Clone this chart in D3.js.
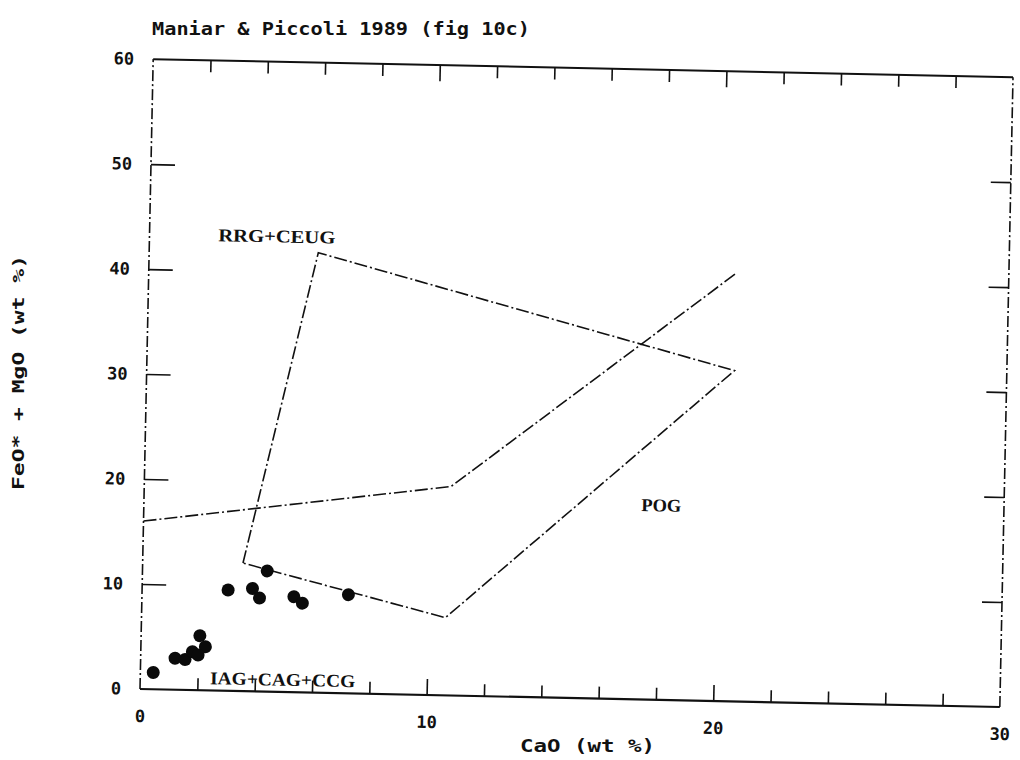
<!DOCTYPE html>
<html lang="en">
<head>
<meta charset="UTF-8">
<title>Maniar & Piccoli 1989 (fig 10c)</title>
<script src="https://d3js.org/d3.v7.min.js"></script>
<style>
    html, body { margin: 0; padding: 0; background: #fff; }
    svg { display: block; }
    .mono { font-family: 'DejaVu Sans Mono', monospace; font-weight: bold; fill: #111; }
    .region { font-family: 'Liberation Serif', 'DejaVu Serif', serif; font-weight: bold; fill: #111; }
</style>
</head>
<body>
<svg id="chart" width="1020" height="760"></svg>
<script>
// --- data ---
const xTicks = [0, 10, 20, 30];
const xMinorTicks = [2, 4, 6, 8, 12, 14, 16, 18, 22, 24, 26, 28];
const yTicks = [0, 10, 20, 30, 40, 50, 60];
const ySideTicks = [10, 20, 30, 40, 50];

// sample points: CaO vs FeO* + MgO (wt %)
const caO  = [0.45, 1.2, 1.55, 1.8, 2.05, 2.25, 2.0, 3.0, 3.85, 4.1, 4.35, 5.3, 5.6, 7.2];
const feMg = [1.6, 3.0, 2.9, 3.65, 5.2, 4.15, 3.35, 9.6, 9.8, 8.9, 11.5, 9.1, 8.5, 9.4];

// field boundaries
const rrgX = [3.5, 5.9, 20.5, 10.6, 3.5];
const rrgY = [12.2, 41.9, 31.5, 7.4, 12.2];
const pogX = [0, 10.7, 20.5];
const pogY = [16, 19.9, 40.8];

const regionNames = ["RRG+CEUG", "POG", "IAG+CAG+CCG"];
const regionX = [2.4, 17.35, 2.44];
const regionY = [42.8, 17.95, 0.6];
const regionLen = [117, 40, 145];

// --- layout ---
const W = 860, H = 630;
const svg = d3.select("#chart");

// the scanned figure sits slightly skewed on the page
const g = svg.append("g").attr("transform", "translate(140,689) rotate(1.2)");

const x = d3.scaleLinear().domain([0, 30]).range([0, W]);
const y = d3.scaleLinear().domain([0, 60]).range([0, -H]);

// frame: top/bottom solid, sides broken
g.append("line").attr("x1", 0).attr("x2", W).attr("y1", y(0)).attr("y2", y(0))
    .attr("stroke", "#111").attr("stroke-width", 2.2);
g.append("line").attr("x1", 0).attr("x2", W).attr("y1", y(60)).attr("y2", y(60))
    .attr("stroke", "#111").attr("stroke-width", 2);
[0, W].forEach(px => {
    g.append("line").attr("x1", px).attr("x2", px).attr("y1", y(0)).attr("y2", y(60))
        .attr("stroke", "#111").attr("stroke-width", 1.6)
        .attr("stroke-dasharray", "11,3,2,3");
});

function styleAxis(sel) {
    sel.select(".domain").remove();
    sel.selectAll(".tick line").attr("stroke", "#111").attr("stroke-width", 1.6);
    sel.selectAll(".tick text").attr("class", "mono").style("font-size", "17px");
}

// bottom ticks (inward)
g.append("g").call(d3.axisBottom(x).tickValues(xMinorTicks).tickSize(-12).tickFormat(""))
    .call(styleAxis);
g.append("g").call(d3.axisBottom(x).tickValues([10, 20]).tickSize(-16).tickFormat(""))
    .call(styleAxis);
g.append("g").call(d3.axisBottom(x).tickValues(xTicks).tickSize(0).tickPadding(21))
    .call(styleAxis);

// top ticks (inward)
g.append("g").attr("transform", `translate(0,${y(60)})`)
    .call(d3.axisTop(x).tickValues(xMinorTicks).tickSize(-12).tickFormat(""))
    .call(styleAxis);
g.append("g").attr("transform", `translate(0,${y(60)})`)
    .call(d3.axisTop(x).tickValues([10, 20]).tickSize(-16).tickFormat(""))
    .call(styleAxis);

// left ticks + labels
g.append("g").call(d3.axisLeft(y).tickValues(ySideTicks).tickSize(-24).tickFormat(""))
    .call(styleAxis);
g.append("g").call(d3.axisLeft(y).tickValues(yTicks).tickSize(0).tickPadding(19))
    .call(styleAxis);

// right ticks
g.append("g").attr("transform", `translate(${W},0)`)
    .call(d3.axisRight(y).tickValues(ySideTicks).tickSize(-20).tickFormat(""))
    .call(styleAxis);

// field boundaries
const line = d3.line().x(d => x(d[0])).y(d => y(d[1]));
g.append("path")
    .datum(rrgX.map((v, i) => [v, rrgY[i]]))
    .attr("d", line)
    .attr("fill", "none").attr("stroke", "#111").attr("stroke-width", 1.6)
    .attr("stroke-dasharray", "13,3,2,3");
g.append("path")
    .datum(pogX.map((v, i) => [v, pogY[i]]))
    .attr("d", line)
    .attr("fill", "none").attr("stroke", "#111").attr("stroke-width", 1.6)
    .attr("stroke-dasharray", "13,3,2,3");

// samples
g.append("g").selectAll("circle")
    .data(caO.map((v, i) => [v, feMg[i]]))
    .join("circle")
    .attr("cx", d => x(d[0]))
    .attr("cy", d => y(d[1]))
    .attr("r", 6.5)
    .attr("fill", "#0a0a0a");

// field names
g.append("g").selectAll("text")
    .data(regionNames)
    .join("text")
    .attr("class", "region")
    .attr("x", (d, i) => x(regionX[i]))
    .attr("y", (d, i) => y(regionY[i]))
    .attr("textLength", (d, i) => regionLen[i])
    .attr("lengthAdjust", "spacingAndGlyphs")
    .style("font-size", "18px")
    .text(d => d);

// titles
svg.append("text").attr("class", "mono")
    .attr("x", 152).attr("y", 35)
    .attr("textLength", 378).attr("lengthAdjust", "spacingAndGlyphs")
    .style("font-size", "18px")
    .text("Maniar & Piccoli 1989 (fig 10c)");

svg.append("text").attr("class", "mono")
    .attr("x", 520).attr("y", 752)
    .attr("textLength", 135).attr("lengthAdjust", "spacingAndGlyphs")
    .style("font-size", "17px")
    .text("CaO   (wt %)");

svg.append("text").attr("class", "mono")
    .attr("transform", "translate(24,490) rotate(-90)")
    .attr("textLength", 235).attr("lengthAdjust", "spacingAndGlyphs")
    .style("font-size", "15px")
    .text("FeO* + MgO  (wt %)");
</script>
</body>
</html>
